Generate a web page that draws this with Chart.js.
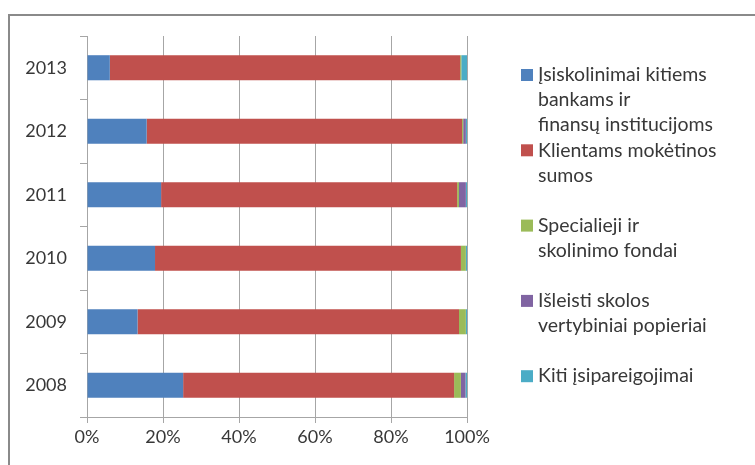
<!DOCTYPE html>
<html>
<head>
<meta charset="utf-8">
<script src="https://cdn.jsdelivr.net/npm/chart.js@4/dist/chart.umd.min.js"></script>
<style>
  html, body { margin: 0; padding: 0; background: #fff; }
  #wrap { position: relative; width: 755px; height: 465px; }
</style>
</head>
<body>
<div id="wrap"><canvas id="chart" width="755" height="465"></canvas></div>
<script>
// Years, top to bottom
const years = ["2013", "2012", "2011", "2010", "2009", "2008"];

// Share of liabilities by type, %
const borrowings = [6.0, 15.7, 19.5, 17.9, 13.3, 25.3];
const customerDeposits = [92.2, 83.0, 77.9, 80.5, 84.6, 71.3];
const specialFunds = [0.3, 0.3, 0.5, 1.3, 1.8, 1.8];
const debtSecurities = [0.0, 0.7, 1.8, 0.0, 0.0, 1.2];
const otherLiabilities = [1.5, 0.3, 0.3, 0.3, 0.3, 0.4];

const xTicks = [0, 20, 40, 60, 80, 100];

// Legend text, one array of lines per series, and the line slot each entry starts on
const legendLines = [
  ["Įsiskolinimai kitiems", "bankams ir", "finansų institucijoms"],
  ["Klientams mokėtinos", "sumos"],
  ["Specialieji ir", "skolinimo fondai"],
  ["Išleisti skolos", "vertybiniai popieriai"],
  ["Kiti įsipareigojimai"]
];
const legendSlots = [0, 3, 6, 9, 12];

const colors = ["#4F81BD", "#C0504D", "#9BBB59", "#8064A2", "#4BACC6"];
const FONT = "Lato, 'Open Sans', sans-serif";
const TEXT = "#383838";
const GRID = "#a6a6a6";

const series = [borrowings, customerDeposits, specialFunds, debtSecurities, otherLiabilities];

// Outer frame plus the side legend
const frameAndLegend = {
  id: "frameAndLegend",
  beforeDraw(chart) {
    const ctx = chart.ctx;
    ctx.save();
    ctx.strokeStyle = "#8a8a8a";
    ctx.lineWidth = 2;
    ctx.beginPath();
    ctx.moveTo(9, 465);
    ctx.lineTo(9, 15);
    ctx.lineTo(755, 15);
    ctx.stroke();
    ctx.restore();
  },
  afterDraw(chart) {
    const ctx = chart.ctx;
    const boxX = 521, textX = 538, top = 75, step = 25.1;
    ctx.save();
    ctx.font = "19.5px " + FONT;
    ctx.textBaseline = "middle";
    chart.data.datasets.forEach((ds, i) => {
      const y0 = top + legendSlots[i] * step;
      ctx.fillStyle = ds.backgroundColor;
      ctx.fillRect(boxX, y0 - 6, 12, 12);
      ctx.fillStyle = TEXT;
      legendLines[i].forEach((line, j) => {
        ctx.fillText(line, textX, y0 + j * step);
      });
    });
    ctx.restore();
  }
};

new Chart(document.getElementById("chart"), {
  type: "bar",
  data: {
    labels: years,
    datasets: series.map((values, i) => ({
      label: legendLines[i].join(" "),
      data: values,
      backgroundColor: colors[i],
      borderWidth: 0,
      categoryPercentage: 1,
      barPercentage: 0.395
    }))
  },
  options: {
    indexAxis: "y",
    responsive: false,
    animation: false,
    layout: { padding: { top: 36, right: 288, bottom: 0, left: 0 } },
    plugins: {
      legend: { display: false },
      tooltip: { enabled: false }
    },
    scales: {
      x: {
        stacked: true,
        min: 0,
        max: 100,
        afterBuildTicks(axis) {
          axis.ticks = xTicks.map(v => ({ value: v }));
        },
        afterFit(axis) { axis.height = 48; },
        grid: {
          color: GRID,
          lineWidth: 1,
          tickLength: 6,
          tickColor: GRID
        },
        border: { color: GRID, width: 1 },
        ticks: {
          color: TEXT,
          padding: 3,
          font: { family: FONT, size: 18 },
          callback: v => v + "%"
        }
      },
      y: {
        stacked: true,
        afterFit(axis) { axis.width = 87; },
        grid: {
          drawOnChartArea: false,
          drawTicks: true,
          tickLength: 7,
          tickColor: GRID,
          offset: true
        },
        border: { color: GRID, width: 1 },
        ticks: {
          color: TEXT,
          padding: 13,
          font: { family: FONT, size: 18 }
        }
      }
    }
  },
  plugins: [frameAndLegend]
});
</script>
</body>
</html>
